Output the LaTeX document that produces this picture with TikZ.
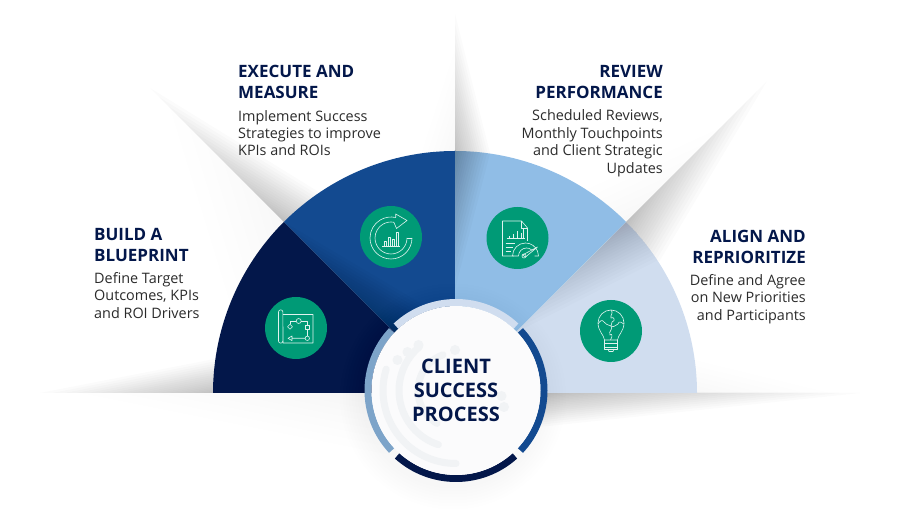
\documentclass[tikz,border=0pt]{standalone}
\usepackage{fontspec}
\setmainfont{Open Sans}
\usetikzlibrary{calc,positioning}

\definecolor{navyblue}{HTML}{03174A}
\definecolor{midblue}{HTML}{134A90}
\definecolor{skyblue}{HTML}{90BDE6}
\definecolor{paleblue}{HTML}{D0DDEF}
\definecolor{ringblue}{HTML}{7DA4C9}
\definecolor{badgegreen}{HTML}{009A76}
\definecolor{bodygray}{HTML}{2B2B2B}
\definecolor{markgray}{HTML}{F1F3F5}

% stacked triangles: apex, end along the edge, end across the edge, layers, opacity
\newcommand{\softwedge}[5]{
  \foreach \i in {1,...,#4}{
    \pgfmathsetmacro{\t}{(\i/#4)^1.5}
    \fill[black,opacity=#5] #1 -- ($#1!\t!#2$) -- ($#1!\t!#3$) -- cycle;
  }
}

\tikzset{
  badge/.style={circle,fill=badgegreen,minimum size=62pt,inner sep=0pt},
  iconline/.style={draw=white!88!badgegreen,line width=0.6pt,line join=round},
  titletext/.style={text=navyblue,inner sep=0pt,font=\fontsize{17}{21}\selectfont\bfseries},
  bodytext/.style={text=bodygray,inner sep=0pt,font=\fontsize{14.4}{17.4}\selectfont},
  ringpart/.style={line width=7pt},
  markarc/.style={draw=markgray,line width=7pt,line cap=round},
}

\begin{document}
\begin{tikzpicture}[x=1pt,y=1pt]
  \useasboundingbox (0,0) rectangle (900,519);
  \coordinate (hub) at (455,126);
  \coordinate (mid) at (456,128.5);

  % shadows on the page
  \softwedge{(299.4,281.6)}{(150,431)}{(335,317)}{24}{0.017}
  \softwedge{(299.4,281.6)}{(170,411)}{(235,200)}{10}{0.003}
  \softwedge{(455,346)}{(455,505)}{(495,346)}{24}{0.014}
  \softwedge{(455,346)}{(455,470)}{(415,346)}{10}{0.002}
  \softwedge{(610.6,281.6)}{(767,438)}{(650,242)}{24}{0.017}
  \softwedge{(610.6,281.6)}{(720,391)}{(570,322)}{10}{0.002}
  \softwedge{(240,126)}{(40,126)}{(240,165)}{24}{0.014}
  \softwedge{(400,126)}{(80,126)}{(400,62)}{12}{0.004}
  \softwedge{(520,126)}{(860,126)}{(520,90)}{24}{0.016}
  \softwedge{(670,126)}{(830,126)}{(670,165)}{10}{0.003}

  % four sectors
  \fill[navyblue] (hub) -- (213,126) arc[start angle=180,end angle=135,radius=242] -- cycle;
  \fill[midblue] (hub) -- ($(hub)+(135:242)$) arc[start angle=135,end angle=90,radius=242] -- cycle;
  \fill[skyblue] (hub) -- (455,368) arc[start angle=90,end angle=45,radius=242] -- cycle;
  \fill[paleblue] (hub) -- ($(hub)+(45:242)$) arc[start angle=45,end angle=0,radius=242] -- cycle;

  % shadows inside the sectors
  \begin{scope}
    \clip (hub) -- ($(hub)+(135:242)$) arc[start angle=135,end angle=90,radius=242] -- cycle;
    \softwedge{(402,179)}{(284,297)}{(432,209)}{20}{0.016}
  \end{scope}
  \begin{scope}
    \clip (hub) -- (455,368) arc[start angle=90,end angle=45,radius=242] -- cycle;
    \softwedge{(455,385)}{(455,230)}{(495,385)}{20}{0.02}
  \end{scope}
  \begin{scope}
    \clip (hub) -- ($(hub)+(45:242)$) arc[start angle=45,end angle=0,radius=242] -- cycle;
    \softwedge{(638.8,309.8)}{(515,186)}{(680,270)}{24}{0.013}
  \end{scope}

  % shadow of the middle disc
  \foreach \r in {92,95,...,113}{
    \fill[black,opacity=0.005] ($(mid)+(-3,-6)$) circle (\r);
  }

  % ring and disc
  \draw[ringpart,paleblue] ($(mid)+(47:88)$) arc[start angle=47,end angle=133,radius=88];
  \draw[ringpart,ringblue] ($(mid)+(137:88)$) arc[start angle=137,end angle=223,radius=88];
  \draw[ringpart,navyblue] ($(mid)+(228:88)$) arc[start angle=228,end angle=312,radius=88];
  \draw[ringpart,midblue] ($(mid)+(317:88)$) arc[start angle=317,end angle=403,radius=88];
  \fill[white!70!markgray] (mid) circle (84.5);

  % faint mark in the disc
  \draw[markarc] ($(mid)+(163:73)$) arc[start angle=163,end angle=270,radius=73];
  \draw[markarc] ($(mid)+(130:57)$) arc[start angle=130,end angle=252,radius=57];
  \draw[markarc] ($(mid)+(110:38)$) arc[start angle=110,end angle=240,radius=38];
  \fill[markgray] (418.5,174) circle (5) (407.5,167) circle (5) (397.5,159) circle (5)
    (455,169) circle (5) (501.5,123) circle (5) (504,112) circle (5);

  % badges
  \node[badge] (blueprint) at (296,191) {};
  \node[badge] (execute) at (391,282) {};
  \node[badge] (review) at (517.5,281) {};
  \node[badge] (align) at (611,188) {};

  % blueprint icon
  \begin{scope}[shift={(blueprint.center)}]
    \draw[iconline] (-17.5,-13) -- (-17.5,16) arc[start angle=180,end angle=0,radius=2.2] -- (-13,-15) -- (17,-15) -- (17,13.5) -- (-13,13.5);
    \draw[iconline] (-17.5,-13) arc[start angle=180,end angle=360,radius=2.2];
    \draw[iconline] (2.7,7) circle (2.5);
    \draw[iconline] (-6,3.8) -- (-3.5,1.3) -- (-6,-1.2) -- (-8.5,1.3) -- cycle;
    \draw[iconline] (9.3,-1.3) rectangle (13.3,2.7);
    \draw[iconline] (11.3,-10.3) circle (2.2);
    \draw[iconline] (-6,3.8) -- (-6,7) -- (0.2,7) (5.2,7) -- (11.3,7) -- (11.3,2.7) (11.3,-1.3) -- (11.3,-8.1);
    \draw[iconline] (9.1,-10.3) -- (-4,-10.3) (-4,-8) -- (-8,-10.3) -- (-4,-12.6) -- cycle;
  \end{scope}

  % execute icon
  \begin{scope}[shift={(execute.center)}]
    \draw[iconline] (21,-1) arc[start angle=0,end angle=-283,radius=21];
    \draw[iconline] (16,-1) arc[start angle=0,end angle=-280,radius=16];
    \draw[iconline] (16,-1) -- (21,-1);
    \draw[iconline] (4.7,19.5) -- (4.7,23) -- (16,16.5) -- (5.5,8.5) -- (2.8,14.8);
    \draw[iconline] (-9,-9) -- (9,-9);
    \foreach \bx/\bh in {-7/5,-3/9,1/7,5/14}{
      \draw[iconline] (\bx,-9) -- (\bx,-9+\bh) -- (\bx+2,-9+\bh) -- (\bx+2,-9);
    }
  \end{scope}

  % review icon
  \begin{scope}[shift={(review.center)}]
    \draw[iconline] (-4,-18) -- (-15,-18) -- (-15,17) -- (4,17) -- (10,10) -- (10,-3);
    \draw[iconline] (4,17) -- (4,10) -- (10,10);
    \draw[iconline] (-11,0) -- (7,0);
    \foreach \bx/\bh in {-8/2,-4/4,0/7,3.5/5,6/9}{
      \draw[iconline] (\bx,0) -- (\bx,\bh);
    }
    \draw[iconline] (-12,-5) -- (-3,-5) (-12,-9) -- (-5,-9) (-12,-13) -- (-7,-13);
    \draw[iconline] (-5,-18) arc[start angle=180,end angle=20,radius=13];
    \draw[iconline] (1,-18) arc[start angle=180,end angle=50,radius=8];
    \draw[iconline] (-5,-18) -- (1,-18) (20,-13) -- (21,-18) -- (17,-18);
    \draw[iconline] (5,-17) -- (20,-9) -- (8,-19) -- cycle;
    \draw[iconline] (6.5,-18) circle (2);
  \end{scope}

  % bulb icon
  \begin{scope}[shift={(align.center)}]
    \draw[iconline] (-6.5,-9) .. controls (-7,-4) and (-13,0) .. (-13,8) arc[start angle=180,end angle=0,radius=13] .. controls (13,0) and (7,-4) .. (6.5,-9) -- cycle;
    \draw[iconline] (-6,-12.5) -- (6,-12.5) (-6,-16) -- (6,-16);
    \draw[iconline] (-6.5,-9) -- (-6.5,-18) -- (6.5,-18) -- (6.5,-9);
    \draw[iconline] (-3,-18) -- (-2,-20.5) -- (2,-20.5) -- (3,-18);
    \draw[iconline] (0,21) .. controls (3,18) and (-1,16) .. (0,13) .. controls (3,15) and (5,10) .. (1,9) -- (0,5) .. controls (-3,7) and (-6,6) .. (-7,9) .. controls (-9,12) and (-11,10) .. (-13,7);
    \draw[iconline] (0,5) .. controls (3,3) and (4,6) .. (7,7) .. controls (8,11) and (11,8) .. (13,7);
    \draw[iconline] (0,5) .. controls (3,2) and (-3,0) .. (-1,-4) .. controls (1,-2) and (2,-5) .. (-0.5,-9);
  \end{scope}

  % labels
  \node[titletext,align=left,anchor=north west] (buildtitle) at (94,291) {BUILD A\\BLUEPRINT};
  \node[bodytext,align=left,below=10.5pt of buildtitle.south west,anchor=north west] (buildtext) {Define Target\\Outcomes, KPIs\\and ROI Drivers};
  \node[titletext,align=left,anchor=north west] (executetitle) at (238,454) {EXECUTE AND\\MEASURE};
  \node[bodytext,align=left,below=11pt of executetitle.south west,anchor=north west] (executetext) {Implement Success\\Strategies to improve\\KPIs and ROIs};
  \node[titletext,align=right,anchor=north east] (reviewtitle) at (663,454) {REVIEW\\PERFORMANCE};
  \node[bodytext,align=right,below=11pt of reviewtitle.south east,anchor=north east] (reviewtext) {Scheduled Reviews,\\Monthly Touchpoints\\and Client Strategic\\Updates};
  \node[titletext,align=right,anchor=north east] (aligntitle) at (806,289) {ALIGN AND\\REPRIORITIZE};
  \node[bodytext,align=right,below=10.5pt of aligntitle.south east,anchor=north east] (aligntext) {Define and Agree\\on New Priorities\\and Participants};
  \node[text=navyblue,align=center,inner sep=0pt,font=\fontsize{20}{23.7}\selectfont\bfseries] (hubtext) at (456,128.5) {CLIENT\\SUCCESS\\PROCESS};
\end{tikzpicture}
\end{document}
